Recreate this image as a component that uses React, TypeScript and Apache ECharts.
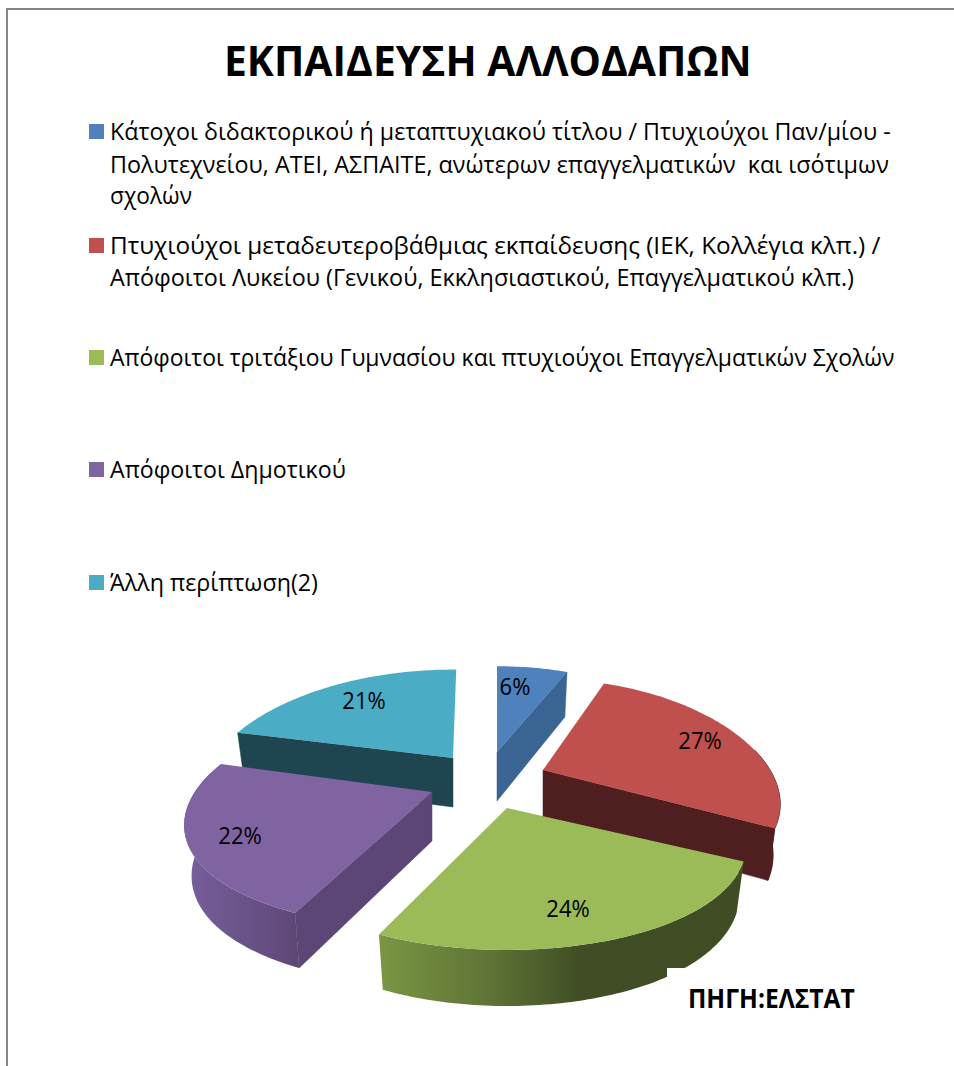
import React, { useEffect, useRef } from "react";
import * as echarts from "echarts";

const titleText = "ΕΚΠΑΙΔΕΥΣΗ ΑΛΛΟΔΑΠΩΝ";
const sourceText = "ΠΗΓΗ:ΕΛΣΤΑΤ";
const categories = [
  "Κάτοχοι διδακτορικού ή μεταπτυχιακού τίτλου / Πτυχιούχοι Παν/μίου - Πολυτεχνείου, ΑΤΕΙ, ΑΣΠΑΙΤΕ, ανώτερων επαγγελματικών  και ισότιμων σχολών",
  "Πτυχιούχοι μεταδευτεροβάθμιας εκπαίδευσης (ΙΕΚ, Κολλέγια κλπ.) / Απόφοιτοι Λυκείου (Γενικού, Εκκλησιαστικού, Επαγγελματικού κλπ.)",
  "Απόφοιτοι τριτάξιου Γυμνασίου και πτυχιούχοι Επαγγελματικών Σχολών",
  "Απόφοιτοι Δημοτικού",
  "Άλλη περίπτωση(2)",
];
const legendLines = [
  ["Κάτοχοι διδακτορικού ή μεταπτυχιακού τίτλου / Πτυχιούχοι Παν/μίου -", "Πολυτεχνείου, ΑΤΕΙ, ΑΣΠΑΙΤΕ, ανώτερων επαγγελματικών  και ισότιμων", "σχολών"],
  ["Πτυχιούχοι μεταδευτεροβάθμιας εκπαίδευσης (ΙΕΚ, Κολλέγια κλπ.) /", "Απόφοιτοι Λυκείου (Γενικού, Εκκλησιαστικού, Επαγγελματικού κλπ.)"],
  ["Απόφοιτοι τριτάξιου Γυμνασίου και πτυχιούχοι Επαγγελματικών Σχολών"],
  ["Απόφοιτοι Δημοτικού"],
  ["Άλλη περίπτωση(2)"],
];
const values = [6, 27, 24, 22, 21];

const topColors = ["#4f81bd", "#c0504d", "#9bbb59", "#8064a2", "#4bacc6"];
const wallColors = ["#3a6491", "#4f1e1e", "#404d24", "#5c4675", "#1f4650"];

// layout of the exploded slices (pixel anchors and small 3D corrections)
const apexes = [[497, 752], [543, 770], [507, 808], [432, 792], [453, 758]];
const radiusScale = [1, 1, 1.012, 1.045, 1.05];
const heightScale = [0.97, 1.03, 1.035, 1, 1];
const startShift = [0, -1.6, -3, 0, 0];
const endShift = [1.4, -0.5, -1, 1.6, 1];
const paintOrder = [1, 3, 5, 4, 2];
const labelSpots = [[515, 686], [700, 740], [568, 908], [240, 835], [364, 700]];
const legendTops = [[132, 165, 196], [246, 278], [358], [470], [583]];
const legendRights = [[891, 889, 192], [881, 854], [895], [346], [318]];
const FONT = '"Open Sans", "Noto Sans", sans-serif';

const measure = (() => {
  const ctx = document.createElement("canvas").getContext("2d")!;
  return (text: string, font: string) => {
    ctx.font = font;
    return ctx.measureText(text).width;
  };
})();

function fittedText(text: string, left: number, right: number, cy: number, size: number, weight: string, z = 10) {
  const font = `${weight} ${size}px ${FONT}`;
  return {
    type: "text",
    x: left,
    y: cy,
    scaleX: (right - left) / measure(text, font),
    z,
    silent: true,
    style: { text, x: 0, y: 0, fill: "#000", font, textVerticalAlign: "middle", textAlign: "left" },
  };
}

function project(i: number, deg: number) {
  const a = (deg * Math.PI) / 180;
  const u = Math.sin(a);
  const v = Math.cos(a);
  const dx = (radiusScale[i] * 227 * u) / (1 + 0.29 * v);
  const dy = (heightScale[i] * -107.5 * v) / (1 + 0.216 * v);
  return { dx, dy, v };
}
const topPt = (i: number, deg: number) => {
  const p = project(i, deg);
  return [apexes[i][0] + p.dx, apexes[i][1] + p.dy];
};
const botPt = (i: number, deg: number) => {
  const p = project(i, deg);
  return [apexes[i][0] + 0.97 * p.dx, apexes[i][1] + p.dy + 49 + 0.05 * p.dy];
};
const apexBot = (i: number) => [apexes[i][0], apexes[i][1] + 49];

const total = values.reduce((s, v) => s + v, 0);
const starts = values.map((_, i) => (values.slice(0, i).reduce((s, v) => s + v, 0) / total) * 360);

function wallFill(i: number) {
  if (i === 2)
    return new echarts.graphic.LinearGradient(0, 0, 1, 0, [
      { offset: 0, color: "#7a9644" },
      { offset: 0.3, color: "#5f7436" },
      { offset: 0.55, color: "#414e25" },
      { offset: 1, color: "#404d24" },
    ]);
  if (i === 3)
    return new echarts.graphic.LinearGradient(0, 0, 1, 0, [
      { offset: 0, color: "#77609d" },
      { offset: 1, color: "#5e4776" },
    ]);
  return wallColors[i];
}

function renderSlice(params: any, api: any) {
  const i = params.seriesIndex;
  const value = api.value(0);
  const a0 = starts[i] + startShift[i];
  const a1 = starts[i] + (value / total) * 360 + endShift[i];
  const steps = Math.max(8, Math.round(a1 - a0));
  const angs: number[] = [];
  for (let k = 0; k <= steps; k++) angs.push(a0 + ((a1 - a0) * k) / steps);

  const children: any[] = [];
  const front = angs.filter((d) => Math.cos((d * Math.PI) / 180) < 0.2);
  if (front.length > 1) {
    children.push({
      type: "polygon",
      shape: { points: [...front.map((d) => topPt(i, d)), ...front.slice().reverse().map((d) => botPt(i, d))] },
      style: { fill: wallFill(i), stroke: i === 1 ? wallColors[i] : null, lineWidth: 1 },
    });
  }
  const radial = (d: number) => ({
    type: "polygon",
    shape: { points: [apexes[i], topPt(i, d), botPt(i, d), apexBot(i)] },
    style: { fill: wallColors[i], stroke: wallColors[i], lineWidth: 0.5 },
  });
  if (Math.sin((a0 * Math.PI) / 180) < -1e-6) children.push(radial(a0));
  if (Math.sin((a1 * Math.PI) / 180) > 1e-6 && a1 < 300) children.push(radial(a1));
  children.push({
    type: "polygon",
    shape: { points: [apexes[i], ...angs.map((d) => topPt(i, d))] },
    style: { fill: topColors[i] },
  });
  children.push({
    type: "text",
    x: labelSpots[i][0],
    y: labelSpots[i][1],
    scaleX: 0.92,
    style: {
      text: `${value}%`,
      fill: "#000",
      font: `24px ${FONT}`,
      textAlign: "center",
      textVerticalAlign: "middle",
    },
  });
  return { type: "group", children };
}

export default function App() {
  const ref = useRef<HTMLDivElement>(null);
  useEffect(() => {
    const chart = echarts.init(ref.current!, undefined, { renderer: "svg" });
    const legendGraphics: any[] = [];
    legendLines.forEach((lines, i) => {
      legendGraphics.push({
        type: "rect",
        z: 10,
        silent: true,
        shape: { x: 89, y: legendTops[i][0] - 8, width: 15, height: 15 },
        style: { fill: topColors[i] },
      });
      lines.forEach((line, j) => {
        legendGraphics.push(fittedText(line, 110, legendRights[i][j], legendTops[i][j] - 1, 24, "normal"));
      });
    });
    chart.setOption({
      animation: false,
      backgroundColor: "#fff",
      series: values.map((v, i) => ({
        type: "custom",
        name: categories[i],
        coordinateSystem: "none",
        z: paintOrder[i] + 1,
        data: [[v]],
        renderItem: renderSlice,
        silent: true,
      })),
      graphic: [
        { type: "line", z: 20, silent: true, shape: { x1: 7, y1: 9, x2: 954, y2: 9 }, style: { stroke: "#868686", lineWidth: 2 } },
        { type: "line", z: 20, silent: true, shape: { x1: 7, y1: 8, x2: 7, y2: 1066 }, style: { stroke: "#868686", lineWidth: 2 } },
        fittedText(titleText, 224, 752, 60, 42, "bold"),
        { type: "rect", z: 20, silent: true, shape: { x: 667, y: 968, width: 240, height: 60 }, style: { fill: "#fff" } },
        fittedText(sourceText, 688, 855, 998, 26, "bold", 21),
        ...legendGraphics,
      ],
    });
    return () => chart.dispose();
  }, []);
  return <div ref={ref} style={{ position: "fixed", left: 0, top: 0, width: 954, height: 1066 }} />;
}
